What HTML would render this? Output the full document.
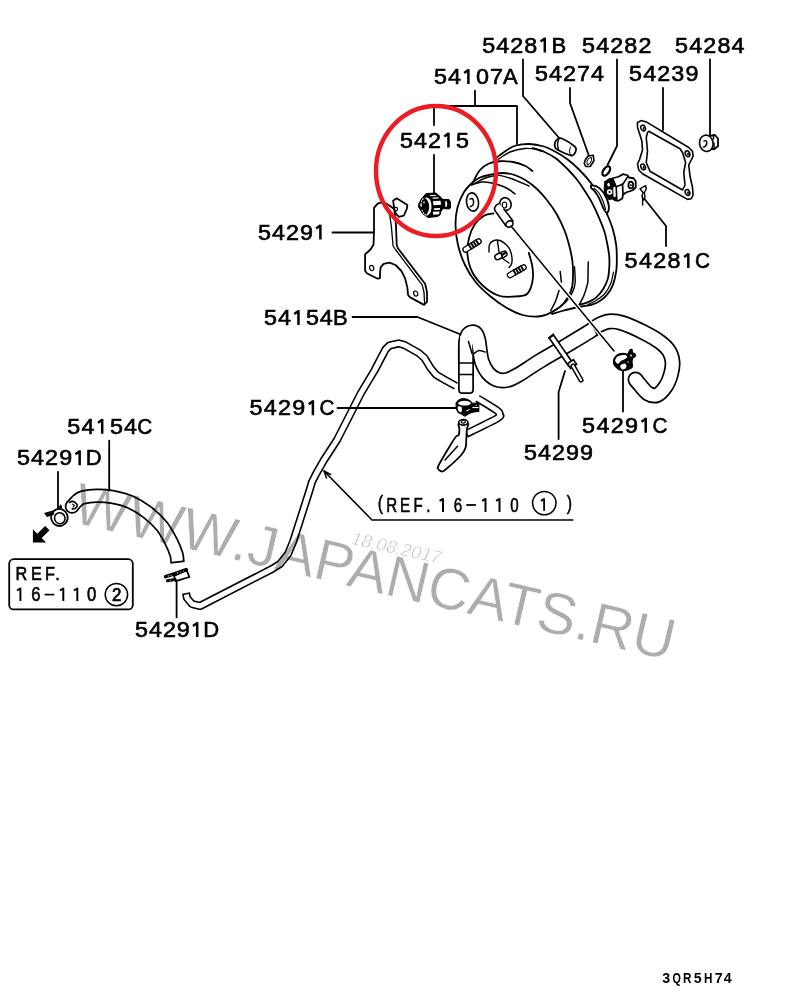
<!DOCTYPE html>
<html><head><meta charset="utf-8"><style>html,body{margin:0;padding:0;background:#fff;overflow:hidden}svg{display:block}text{font-family:"Liberation Sans",sans-serif}</style></head>
<body>
<svg width="800" height="1008" viewBox="0 0 800 1008">
<rect width="800" height="1008" fill="#fff"/>
<path d="M475,90.75 L475,106" fill="none" stroke="#000" stroke-width="1.8" stroke-linejoin="round" stroke-linecap="round" />
<path d="M434,125 L434,106 L517,106 L517,144" fill="none" stroke="#000" stroke-width="1.8" stroke-linejoin="round" stroke-linecap="round" />
<path d="M434,155 L434,192.5" fill="none" stroke="#000" stroke-width="1.8" stroke-linejoin="round" stroke-linecap="round" />
<path d="M523,59.5 L523,96 L560,139" fill="none" stroke="#000" stroke-width="1.8" stroke-linejoin="round" stroke-linecap="round" />
<path d="M570,88 L570,103 L589,156" fill="none" stroke="#000" stroke-width="1.8" stroke-linejoin="round" stroke-linecap="round" />
<path d="M617,59.5 L617,146 L607.5,165" fill="none" stroke="#000" stroke-width="1.8" stroke-linejoin="round" stroke-linecap="round" />
<path d="M710,59.5 L710,135" fill="none" stroke="#000" stroke-width="1.8" stroke-linejoin="round" stroke-linecap="round" />
<path d="M663,88 L663,130" fill="none" stroke="#000" stroke-width="1.8" stroke-linejoin="round" stroke-linecap="round" />
<path d="M666,246 L666,226 L645,199.5" fill="none" stroke="#000" stroke-width="1.8" stroke-linejoin="round" stroke-linecap="round" />
<path d="M332.5,232.5 L373,232.5" fill="none" stroke="#000" stroke-width="1.8" stroke-linejoin="round" stroke-linecap="round" />
<path d="M352.5,317 L417.5,317 L462,335" fill="none" stroke="#000" stroke-width="1.8" stroke-linejoin="round" stroke-linecap="round" />
<path d="M497.5,157 C499.08,155.83 503.92,151.92 507,150 C510.08,148.08 512.25,146.5 516,145.5 C519.75,144.5 525,143.88 529.5,144 C534,144.12 538.75,145 543,146.25 C547.25,147.5 551,149.38 555,151.5 C559,153.62 563,156 567,159 C571,162 575,165.5 579,169.5 C583,173.5 587.5,178.42 591,183 C594.5,187.58 597.38,191.98 600,197 C602.62,202.02 604.6,207.83 606.7,213.1 C608.8,218.37 611.02,223.25 612.6,228.6 C614.18,233.95 615.5,240.05 616.2,245.2 C616.9,250.35 616.8,255.13 616.8,259.5 C616.8,263.87 616.9,267.03 616.2,271.4 C615.5,275.77 614.18,281.73 612.6,285.7 C611.02,289.67 608.88,292.62 606.7,295.2 C604.52,297.78 602.08,299.6 599.5,301.2 C596.92,302.8 594.17,303.92 591.2,304.8 C588.23,305.68 584.9,305.88 581.7,306.5 C578.5,307.12 575.28,307.75 572,308.5 C568.72,309.25 565.33,310.08 562,311 C558.67,311.92 553.67,313.5 552,314" fill="none" stroke="#000" stroke-width="1.8" stroke-linejoin="round" stroke-linecap="round" />
<path d="M498,159.5 C500,158.25 505.5,153.83 510,152 C514.5,150.17 520.5,148.92 525,148.5 C529.5,148.08 534.33,149 537,149.5 C539.67,150 540.33,151.17 541,151.5" fill="none" stroke="#000" stroke-width="1.4" stroke-linejoin="round" stroke-linecap="round" />
<path d="M532.5,148 C534.5,148.67 540.58,150.25 544.5,152 C548.42,153.75 552.1,155.58 556,158.5 C559.9,161.42 564.58,166.2 567.9,169.5 C571.22,172.8 573.25,174.98 575.9,178.3 C578.55,181.62 581.17,185.43 583.8,189.4 C586.43,193.37 589.32,197.73 591.7,202.1 C594.08,206.47 595.98,210.72 598.1,215.6 C600.22,220.48 602.83,226.5 604.4,231.4 C605.97,236.3 606.7,240.9 607.5,245 C608.3,249.1 608.9,252.38 609.2,256 C609.5,259.62 609.52,262.93 609.3,266.7 C609.08,270.47 608.93,274.83 607.9,278.6 C606.87,282.37 605.08,286.13 603.1,289.3 C601.12,292.47 598.58,295.42 596,297.6 C593.42,299.78 590.6,301.17 587.6,302.4 C584.6,303.63 579.6,304.57 578,305" fill="none" stroke="#000" stroke-width="1.8" stroke-linejoin="round" stroke-linecap="round" />
<path d="M613.5,272 C613,274 612,280.33 610.5,284 C609,287.67 606.92,291.25 604.5,294 C602.08,296.75 598.75,298.75 596,300.5 C593.25,302.25 589.33,303.83 588,304.5" fill="none" stroke="#000" stroke-width="1.2" stroke-linejoin="round" stroke-linecap="round" />
<path d="M588.2,262.5 C588.17,264.75 588.1,272.53 588,276 C587.9,279.47 588.27,280.1 587.6,283.3 C586.93,286.5 585.38,291.62 584,295.2 C582.62,298.78 580.08,303.2 579.3,304.8" fill="none" stroke="#000" stroke-width="1.5" stroke-linejoin="round" stroke-linecap="round" />
<path d="M472.5,183 C473.75,180.83 477.25,173.25 480,170 C482.75,166.75 485.75,164.96 489,163.5 C492.25,162.04 495.5,161.5 499.5,161.25 C503.5,161 508.75,161.25 513,162 C517.25,162.75 521.75,164.25 525,165.75 C528.25,167.25 531.25,170.12 532.5,171" fill="none" stroke="#000" stroke-width="1.8" stroke-linejoin="round" stroke-linecap="round" />
<path d="M471.5,185 C473.25,184.5 478.58,182.33 482,182 C485.42,181.67 488.67,182.33 492,183 C495.33,183.67 499.17,184.92 502,186 C504.83,187.08 506.83,188.17 509,189.5 C511.17,190.83 514,193.25 515,194" fill="none" stroke="#000" stroke-width="1.5" stroke-linejoin="round" stroke-linecap="round" />
<path d="M489,175 C492.75,174.25 498.25,173 502.5,173 C506.75,173 510.58,173.75 514.5,175 C518.42,176.25 522.25,178.17 526,180.5 C529.75,182.83 533.52,185.75 537,189 C540.48,192.25 543.63,195.83 546.9,200 C550.17,204.17 553.63,208.83 556.6,214 C559.57,219.17 562.53,225.5 564.7,231 C566.87,236.5 568.3,241.83 569.6,247 C570.9,252.17 571.93,257.17 572.5,262 C573.07,266.83 573.07,271.83 573,276 C572.93,280.17 572.83,283.67 572.1,287 C571.37,290.33 569.98,293.33 568.6,296 C567.22,298.67 565.78,300.78 563.8,303 C561.82,305.22 559.48,307.42 556.7,309.3 C553.92,311.18 550.22,313.1 547.1,314.3 C543.98,315.5 542.1,316.38 538,316.5 C533.9,316.62 527.83,316.5 522.5,315 C517.17,313.5 511.42,310.67 506,307.5 C500.58,304.33 495,300.17 490,296 C485,291.83 480.17,287.67 476,282.5 C471.83,277.33 468,271.25 465,265 C462,258.75 459.58,251.67 458,245 C456.42,238.33 455.58,231.25 455.5,225 C455.42,218.75 456.12,212.92 457.5,207.5 C458.88,202.08 461.25,196.67 463.75,192.5 C466.25,188.33 469.79,185 472.5,182.5 C475.21,180 477.25,178.75 480,177.5 C482.75,176.25 485.25,175.75 489,175Z" fill="none" stroke="#000" stroke-width="1.8" stroke-linejoin="round" stroke-linecap="round" />
<path d="M474,184 C475.67,183.08 480.67,179.87 484,178.5 C487.33,177.13 491.17,176.28 494,175.8 C496.83,175.32 498.17,175.15 501,175.6 C503.83,176.05 506.33,176.77 511,178.5 C515.67,180.23 526,184.75 529,186" fill="none" stroke="#000" stroke-width="1.4" stroke-linejoin="round" stroke-linecap="round" />
<path d="M574.5,266.7 C574.6,269.47 575.5,278.93 575.1,283.3 C574.7,287.67 573.38,290.12 572.1,292.9 C570.82,295.68 569.18,297.82 567.4,300 C565.62,302.18 563.98,304.02 561.4,306 C558.82,307.98 553.48,310.92 551.9,311.9" fill="none" stroke="#000" stroke-width="1.4" stroke-linejoin="round" stroke-linecap="round" />
<path d="M560.2,271.4 L561.4,282.1" fill="none" stroke="#000" stroke-width="1.5" stroke-linejoin="round" stroke-linecap="round" />
<path d="M559,290.5 C558.42,292.28 556.88,297.83 555.5,301.2 C554.12,304.57 551.5,309.12 550.7,310.7" fill="none" stroke="#000" stroke-width="1.5" stroke-linejoin="round" stroke-linecap="round" />
<path d="M588.5,262 L588.5,262" fill="none" stroke="#000" stroke-width="1.5" stroke-linejoin="round" stroke-linecap="round" />
<path d="M493.5,213.5 C492,213.83 487.58,213.75 484.5,215.5 C481.42,217.25 477.58,220.25 475,224 C472.42,227.75 470.25,232.83 469,238 C467.75,243.17 466.92,249.25 467.5,255 C468.08,260.75 469.58,267.08 472.5,272.5 C475.42,277.92 480.42,283.58 485,287.5 C489.58,291.42 495,294.5 500,296 C505,297.5 510.72,296.68 515,296.5 C519.28,296.32 523.1,296.25 525.7,294.9 C528.3,293.55 529.38,291.38 530.6,288.4 C531.82,285.42 532.73,280.8 533,277 C533.27,273.2 532.9,269.63 532.2,265.6 C531.5,261.57 529.37,254.93 528.8,252.8" fill="none" stroke="#000" stroke-width="1.8" stroke-linejoin="round" stroke-linecap="round" />
<path d="M374,207.9 L377.6,203.7 L381.2,202.5 L386,203.5 L390,206 L394.3,209 L396,225.7 L396.7,244.8 L397.9,248.3 L425.2,284 L427,292.4 L427,301.9 L424,304.9 L409.8,297.1 L408,294.8 L407.4,287.6 L405,278.1 L401.4,271 L395.5,265 L389.5,262.6 L383.6,263.8 L380.6,267.4 L380,273.3 L380,278.1 L377.6,278.7 L366.9,273.3 L365.1,271 L365.1,254.3 L370.5,249.5 L373.5,244.8 L374,231.7Z" fill="#fff" stroke="#000" stroke-width="1.8" stroke-linejoin="round"/>
<path d="M389.5,214 L391.3,225.7 L393.1,246 L395.5,249.5 L422.3,285.2 L424,292.4 L424.6,303.5" fill="none" stroke="#000" stroke-width="1.3" stroke-linejoin="round" stroke-linecap="round" />
<ellipse cx="371.7" cy="268" rx="2" ry="2.6" transform="rotate(-20 371.7 268)" fill="none" stroke="#000" stroke-width="1.2"/>
<ellipse cx="415.7" cy="293.6" rx="2" ry="2.6" transform="rotate(-20 415.7 293.6)" fill="none" stroke="#000" stroke-width="1.2"/>
<path d="M393.1,200.7 L396.7,198.3 L407.4,204.9 L406.8,209 L403.8,215.6 L399,216.8 L396,213.8 L394.3,209Z" fill="#fff" stroke="#000" stroke-width="1.8" stroke-linejoin="round"/>
<circle cx="395.8" cy="209.2" r="1.8" fill="none" stroke="#000" stroke-width="1.2"/>
<path d="M418.5,204.5 L421,199.5 L426,193.5 L436,193 L441,197.5 L443,199.5 L449,199.5 L450.5,202 L450.5,208 L449,209 L443,208.5 L441,211.5 L440,215 L437.5,216.5 L428,217.5 L422.5,213.5 L420,209 L418.5,207Z" fill="#000" stroke="#000" stroke-width="1" stroke-linejoin="round"/>
<path d="M424.5,198 C427,196.5 429.5,198 430.8,201.5 C431.8,205 431.7,209.5 430.5,212.5 C429.3,214.8 427.5,215.5 426,215.2 C428.2,213 429.3,209.5 429.2,206 C429,202 427.2,199 424.5,198 Z" fill="#fff"/>
<path d="M433,201 L440.5,200.8 L441,204.8 L433.5,205.2 Z" fill="#fff"/>
<path d="M434,208.2 L440,208 L440,209.8 L434,210 Z" fill="#fff"/>
<path d="M432.8,211.8 L439.6,211.4 L439,214.3 L433.2,214.8 Z" fill="#fff"/>
<path d="M432.5,197.6 L438.5,197.3 L438.6,198.5 L432.6,198.7 Z" fill="#fff"/>
<path d="M430.2,195.1 L435.8,194.9 L435.8,195.9 L430.2,196.1 Z" fill="#fff"/>
<path d="M445.2,201.3 L446.8,201.2 L447.2,204 L446.8,206.8 L445.3,206.9 Z" fill="#fff"/>
<path d="M423.4,201.5 L424.6,201.2 L424.6,203.4 L423.4,203.6 Z" fill="#fff"/>
<rect x="420.5" y="204.2" width="1.3" height="2.4" fill="#fff"/>
<path d="M423.5,198.5 C421.5,200 420.8,203 421,206" fill="none" stroke="#fff" stroke-width="1.1" stroke-dasharray="1.6 0.9"/>
<path d="M422,210 C423,213 425,215 427.5,215.8" fill="none" stroke="#fff" stroke-width="1.1" stroke-dasharray="1.6 0.9"/>
<ellipse cx="472.5" cy="202" rx="6" ry="9.2" transform="rotate(-8 472.5 202)" fill="none" stroke="#000" stroke-width="1.6"/>
<path d="M470,199 C470.33,198.92 471.42,198.17 472,198.5 C472.58,198.83 473.33,199.92 473.5,201 C473.67,202.08 473.5,204.08 473,205 C472.5,205.92 470.92,206.25 470.5,206.5" fill="none" stroke="#000" stroke-width="1.5" stroke-linejoin="round" stroke-linecap="round" />
<line x1="465.5" y1="249.5" x2="478.5" y2="241.5" stroke="#000" stroke-width="6.5" stroke-linecap="round"/>
<line x1="465.5" y1="249.5" x2="478.5" y2="241.5" stroke="#fff" stroke-width="3.9" stroke-linecap="round"/>
<line x1="471.75" y1="249.47" x2="468.35" y2="243.93" stroke="#000" stroke-width="1.9"/>
<line x1="474.17" y1="247.98" x2="470.76" y2="242.45" stroke="#000" stroke-width="1.9"/>
<line x1="476.58" y1="246.5" x2="473.18" y2="240.96" stroke="#000" stroke-width="1.9"/>
<line x1="479" y1="245.01" x2="475.59" y2="239.47" stroke="#000" stroke-width="1.9"/>
<line x1="510" y1="275" x2="523.5" y2="267.5" stroke="#000" stroke-width="6.5" stroke-linecap="round"/>
<line x1="510" y1="275" x2="523.5" y2="267.5" stroke="#fff" stroke-width="3.9" stroke-linecap="round"/>
<line x1="516.3" y1="275.22" x2="513.15" y2="269.53" stroke="#000" stroke-width="1.9"/>
<line x1="518.81" y1="273.82" x2="515.65" y2="268.14" stroke="#000" stroke-width="1.9"/>
<line x1="521.32" y1="272.43" x2="518.16" y2="266.75" stroke="#000" stroke-width="1.9"/>
<line x1="523.82" y1="271.04" x2="520.67" y2="265.36" stroke="#000" stroke-width="1.9"/>
<ellipse cx="505.5" cy="204" rx="5.5" ry="6.5" transform="rotate(-20 505.5 204)" fill="#fff" stroke="#000" stroke-width="1.6"/>
<ellipse cx="504.5" cy="205" rx="2.2" ry="3" fill="none" stroke="#000" stroke-width="1.2"/>
<path d="M499,203.5 C495,205 493,209 496,212 L506,226 L513,221 L503.5,208.5" fill="#fff" stroke="#000" stroke-width="1.6" stroke-linejoin="round"/>
<ellipse cx="509.5" cy="224" rx="3.6" ry="3" transform="rotate(-35 509.5 224)" fill="#fff" stroke="#000" stroke-width="1.5"/>
<path d="M489,252 C489.08,250.75 488.67,246.42 489.5,244.5 C490.33,242.58 492.25,241.17 494,240.5 C495.75,239.83 498,239.83 500,240.5 C502,241.17 504.33,242.92 506,244.5 C507.67,246.08 509,247.75 510,250 C511,252.25 511.75,255.67 512,258 C512.25,260.33 512,262.42 511.5,264 C511,265.58 509.42,266.92 509,267.5" fill="none" stroke="#000" stroke-width="1.4" stroke-linejoin="round" stroke-linecap="round" />
<path d="M497.5,241 L499,252 L502,258 L509,263" fill="none" stroke="#000" stroke-width="1.4" stroke-linejoin="round" stroke-linecap="round" />
<path d="M500,253 C500.83,252.67 503.83,250.67 505,251 C506.17,251.33 507.33,253.83 507,255 C506.67,256.17 503.67,257.5 503,258" fill="none" stroke="#000" stroke-width="1.5" stroke-linejoin="round" stroke-linecap="round" />
<ellipse cx="498.5" cy="256.5" rx="3.8" ry="2.8" transform="rotate(-25 498.5 256.5)" fill="#fff" stroke="#000" stroke-width="1.5"/>
<path d="M502,255 L505,253" fill="none" stroke="#000" stroke-width="2.2" stroke-linejoin="round" stroke-linecap="round" />
<path d="M591,185.5 C597,184.5 603,190 606.5,198 C609,204 609.8,210 607.3,212.8 C604.8,213 603.2,208.5 601.6,204 C599,197 595.5,191 591,187.8 Z" fill="#fff" stroke="#000" stroke-width="1.9" stroke-linejoin="round"/>
<path d="M594,188.3 C594.83,189.08 597.5,190.88 599,193 C600.5,195.12 601.9,198.25 603,201 C604.1,203.75 605.17,208.08 605.6,209.5" fill="none" stroke="#000" stroke-width="1.2" stroke-linejoin="round" stroke-linecap="round" />
<path d="M603.5,193.5 L606.5,191.5 L609,196.5 L606.5,199.5 Z" fill="#000"/>
<path d="M605,182 L609.5,179 L618.5,176.75 L623,174.1 L627.5,175.25 L629,177.5 L633.5,178.25 L635.75,181.25 L635.75,187.25 L632.75,190.25 L626,192.5 L623,194.75 L622.25,198.5 L618.5,200.75 L614.75,200 L612.5,198.5 L609.5,199.25 L606.5,197.75 L605,194 L604.6,188.75Z" fill="#fff" stroke="#000" stroke-width="1.8" stroke-linejoin="round"/>
<path d="M605,182 L609.5,179 L613.5,178.2 L617,186.5 L617.6,199.5 L614.75,200 L612.5,198.5 L609.5,199.25 L606.5,197.75 L605,194 L604.6,188.75 Z" fill="#000"/>
<ellipse cx="630.8" cy="185" rx="2.4" ry="3.4" fill="#fff" stroke="#000" stroke-width="1.8"/>
<circle cx="630.9" cy="185.3" r="1" fill="#000"/>
<circle cx="609.6" cy="192" r="2.8" fill="#fff"/>
<circle cx="609.6" cy="192" r="1.1" fill="#000"/>
<path d="M607,184 L609,182.6 L610.2,185.5 L608,186.8 Z" fill="#fff"/>
<path d="M613.2,187.5 L615.4,186.6 L615.8,196.5 L613.6,197.2 Z" fill="#fff"/>
<path d="M622.5,184 L623,194" fill="none" stroke="#000" stroke-width="1.7" stroke-linejoin="round" stroke-linecap="round" />
<path d="M617,186.5 L623,184 L627.5,177" fill="none" stroke="#000" stroke-width="1.5" stroke-linejoin="round" stroke-linecap="round" />
<path d="M555,142.5 C555.5,141.12 556.75,139.38 558,138.75 C559.25,138.12 559.75,137.5 562.5,138.75 C565.25,140 572.25,144.38 574.5,146.25 C576.75,148.12 576.12,148.62 576,150 C575.88,151.38 574.75,153.62 573.75,154.5 C572.75,155.38 572.62,156 570,155.25 C567.38,154.5 560.5,151.38 558,150 C555.5,148.62 555.5,148.25 555,147 C554.5,145.75 554.5,143.88 555,142.5Z" fill="#fff" stroke="#000" stroke-width="1.8" stroke-linejoin="round"/>
<path d="M558.7,139.3 C558.5,140.08 557.53,142.3 557.5,144 C557.47,145.7 558.33,148.58 558.5,149.5" fill="none" stroke="#000" stroke-width="1.4" stroke-linejoin="round" stroke-linecap="round" />
<path d="M570.5,147 C570.33,147.67 569.5,149.67 569.5,151 C569.5,152.33 570.33,154.33 570.5,155" fill="none" stroke="#000" stroke-width="1" stroke-linejoin="round" stroke-linecap="round" />
<path d="M585,160.5 L588,156 L593.25,155.25 L594,160.5 L590.25,166.5 L585.75,166.5 L584.25,163.5 Z" fill="#fff" stroke="#000" stroke-width="1.6" stroke-linejoin="round"/>
<path d="M587,161 L589,158 L591.6,157.6 L591.5,160.8 L589.3,164.3 L587,164.4 Z" fill="none" stroke="#000" stroke-width="1.0"/>
<ellipse cx="606.3" cy="171" rx="2.9" ry="5.3" transform="rotate(35 606.3 171)" fill="#fff" stroke="#000" stroke-width="2.3"/>
<path d="M637.5,122.5 L641.25,120.6 L646.25,121.9 L688.75,147.5 L692.5,151.25 L693.1,156.25 L688.75,165 L690,176.25 L692.5,187.5 L693.1,195 L691.25,198.75 L687.5,199.4 L642.5,173.75 L638.75,170 L637.5,163.75 L639.4,160 L642.5,150 L641.9,141.25 L640,135 L637.5,127.5Z M648.75,131.25 L680,148.75 L682.5,152.5 L685.6,162.5 L683.75,172.5 L685,185 L682.5,190 L650,171.25 L646.25,162.5 L647.5,151.25 L646.25,137.5 L647.5,132.5Z" fill="#fff" fill-rule="evenodd" stroke="#000" stroke-width="1.6" stroke-linejoin="round"/>
<ellipse cx="643.1" cy="128.1" rx="2.2" ry="3" transform="rotate(-25 643.1 128.1)" fill="#fff" stroke="#000" stroke-width="1.5"/>
<ellipse cx="643.6" cy="128.4" rx="0.9" ry="1.5" fill="#000"/>
<ellipse cx="687.5" cy="153.75" rx="2.2" ry="3" transform="rotate(-25 687.5 153.75)" fill="#fff" stroke="#000" stroke-width="1.5"/>
<ellipse cx="688.0" cy="154.05" rx="0.9" ry="1.5" fill="#000"/>
<ellipse cx="643.1" cy="166.9" rx="2.2" ry="3" transform="rotate(-25 643.1 166.9)" fill="#fff" stroke="#000" stroke-width="1.5"/>
<ellipse cx="643.6" cy="167.20000000000002" rx="0.9" ry="1.5" fill="#000"/>
<ellipse cx="687.5" cy="192.5" rx="2.2" ry="3" transform="rotate(-25 687.5 192.5)" fill="#fff" stroke="#000" stroke-width="1.5"/>
<ellipse cx="688.0" cy="192.8" rx="0.9" ry="1.5" fill="#000"/>
<path d="M709,136 L715,135 L718,138.5 L718,146 L714.5,149 L709,149 Z" fill="#fff" stroke="#000" stroke-width="1.8" stroke-linejoin="round"/>
<path d="M713.5,135.5 L713.5,139" fill="none" stroke="#000" stroke-width="1.4" stroke-linejoin="round" stroke-linecap="round" />
<path d="M714,143 L714.2,148.5" fill="none" stroke="#000" stroke-width="1.4" stroke-linejoin="round" stroke-linecap="round" />
<ellipse cx="706.3" cy="143.3" rx="6.8" ry="8.2" transform="rotate(-10 706.3 143.3)" fill="#fff" stroke="#000" stroke-width="1.6"/>
<path d="M704,141 C704.33,140.97 705.53,140.38 706,140.8 C706.47,141.22 706.97,142.55 706.8,143.5 C706.63,144.45 705.55,145.92 705,146.5 C704.45,147.08 703.75,146.92 703.5,147" fill="none" stroke="#000" stroke-width="1.5" stroke-linejoin="round" stroke-linecap="round" />
<path d="M640,188.75 L645.6,185.6 L646.25,188.75 L644.4,192.5 L645,197.5 L643.75,200 L641.9,196.25 L643,192.5 L640,188.75" fill="none" stroke="#000" stroke-width="1.4" stroke-linejoin="round" stroke-linecap="round" />
<path d="M642.6,197 L642.6,205" fill="none" stroke="#000" stroke-width="1.4" stroke-linejoin="round" stroke-linecap="round" />
<path d="M186,593 L187,598 L192,604 L200,606 L272,569 L280,564 L288,554 L293,542 L309,492 L312,482 L316,474 L324,460 L337,440 L361,393 L374.5,370.5 L385.5,349.5 L389.5,345.5 L398.7,343.4 L404.5,345 L418.7,353 L424.5,358 L430.5,368 L436,374.7 L445,380 L456,386" fill="none" stroke="#000" stroke-width="8.2" stroke-linejoin="round" stroke-linecap="butt"/>
<path d="M186.31,594.57 L187,598 L192,604 L200,606 L272,569 L280,564 L288,554 L293,542 L309,492 L312,482 L316,474 L324,460 L337,440 L361,393 L374.5,370.5 L385.5,349.5 L389.5,345.5 L398.7,343.4 L404.5,345 L418.7,353 L424.5,358 L430.5,368 L436,374.7 L445,380 L456.7,386.38" fill="none" stroke="#fff" stroke-width="5" stroke-linejoin="round" stroke-linecap="butt"/>
<path d="M477.5,398.4 C480.75,400.42 493.33,407.82 497,410.5 C500.67,413.18 499.5,413.17 499.5,414.5 C499.5,415.83 502.58,415.25 497,418.5 C491.42,421.75 471.17,431.42 466,434" fill="none" stroke="#000" stroke-width="8.2" stroke-linejoin="round" stroke-linecap="butt"/>
<path d="M476.82,397.98 C480.18,400.07 493.22,407.75 497,410.5 C500.78,413.25 499.5,413.17 499.5,414.5 C499.5,415.83 502.34,415.37 497,418.5 C491.66,421.63 472.36,430.82 467.43,433.28" fill="none" stroke="#fff" stroke-width="5" stroke-linejoin="round" stroke-linecap="butt"/>
<path d="M458.75,423.75 C457.3,424.58 459.4,426.88 459.4,428.75 C459.4,430.62 459.27,433.75 458.75,435 C458.23,436.25 457.5,434.79 456.25,436.25 C455,437.71 454.17,438.96 451.25,443.75 C448.33,448.54 440.94,460.83 438.75,465 C436.56,469.17 437.68,467.71 438.1,468.75 C438.52,469.79 440.1,471.04 441.25,471.25 C442.4,471.46 441.67,472.71 445,470 C448.33,467.29 457.82,458.75 461.25,455 C464.68,451.25 464.77,450 465.6,447.5 C466.43,445 466.03,443.12 466.25,440 C466.47,436.88 466.59,431.46 466.9,428.75 C467.21,426.04 469.46,424.58 468.1,423.75 C466.74,422.92 460.2,422.92 458.75,423.75Z" fill="#fff" stroke="#000" stroke-width="1.8" stroke-linejoin="round"/>
<ellipse cx="463.3" cy="422.3" rx="4.6" ry="2.8" fill="#fff" stroke="#000" stroke-width="1.6"/>
<ellipse cx="463.3" cy="421.8" rx="2.2" ry="1.3" fill="none" stroke="#000" stroke-width="1.1"/>
<path d="M457.5,446.25 L445,460" fill="none" stroke="#000" stroke-width="1.5" stroke-linejoin="round" stroke-linecap="round" />
<path d="M466,372 C466,367.5 465.75,351 466,345 C466.25,339 466.58,338.08 467.5,336 C468.42,333.92 470.08,332.83 471.5,332.5 C472.92,332.17 474.83,332.58 476,334 C477.17,335.42 477.83,338 478.5,341 C479.17,344 479.42,348.5 480,352 C480.58,355.5 480.67,358.5 482,362 C483.33,365.5 485.5,370.08 488,373 C490.5,375.92 493.83,378.33 497,379.5 C500.17,380.67 503.5,380.75 507,380 C510.5,379.25 512.5,378.17 518,375 C523.5,371.83 532.17,365.78 540,361 C547.83,356.22 556.67,351.25 565,346.3 C573.33,341.35 584.5,334.77 590,331.3 C595.5,327.83 594.83,327.13 598,325.5 C601.17,323.87 605,321.92 609,321.5 C613,321.08 616.33,321.25 622,323 C627.67,324.75 636.67,328.83 643,332 C649.33,335.17 655.67,338.83 660,342 C664.33,345.17 666.92,347.67 669,351 C671.08,354.33 672.17,358.17 672.5,362 C672.83,365.83 672.08,370 671,374 C669.92,378 668.33,382.5 666,386 C663.67,389.5 660,393.75 657,395 C654,396.25 650.83,395.17 648,393.5 C645.17,391.83 642.08,387.33 640,385 C637.92,382.67 636.25,380.42 635.5,379.5" fill="none" stroke="#000" stroke-width="16" stroke-linejoin="round" stroke-linecap="butt"/>
<circle cx="635.5" cy="379.5" r="8" fill="#000"/>
<path d="M466,372.8 C466,368.17 465.75,351.13 466,345 C466.25,338.87 466.58,338.08 467.5,336 C468.42,333.92 470.08,332.83 471.5,332.5 C472.92,332.17 474.83,332.58 476,334 C477.17,335.42 477.83,338 478.5,341 C479.17,344 479.42,348.5 480,352 C480.58,355.5 480.67,358.5 482,362 C483.33,365.5 485.5,370.08 488,373 C490.5,375.92 493.83,378.33 497,379.5 C500.17,380.67 503.5,380.75 507,380 C510.5,379.25 512.5,378.17 518,375 C523.5,371.83 532.17,365.78 540,361 C547.83,356.22 556.67,351.25 565,346.3 C573.33,341.35 584.5,334.77 590,331.3 C595.5,327.83 594.83,327.13 598,325.5 C601.17,323.87 605,321.92 609,321.5 C613,321.08 616.33,321.25 622,323 C627.67,324.75 636.67,328.83 643,332 C649.33,335.17 655.67,338.83 660,342 C664.33,345.17 666.92,347.67 669,351 C671.08,354.33 672.17,358.17 672.5,362 C672.83,365.83 672.08,370 671,374 C669.92,378 668.33,382.5 666,386 C663.67,389.5 660,393.75 657,395 C654,396.25 650.83,395.17 648,393.5 C645.17,391.83 642.08,387.33 640,385 C637.92,382.67 636.25,380.42 635.5,379.5" fill="none" stroke="#fff" stroke-width="12.6" stroke-linejoin="round" stroke-linecap="butt"/>
<circle cx="635.5" cy="379.5" r="6.3" fill="#fff"/>
<path d="M458.9,341 L458.9,389.5 Q458.9,393.2 462.6,393.2 L469.4,393.2 Q473.1,393.2 473.1,389.5 L473.1,354" fill="#fff" stroke="#000" stroke-width="1.7" stroke-linejoin="round"/>
<rect x="460.2" y="336" width="11.6" height="8" fill="#fff"/>
<path d="M468.5,341.5 L472,353.5" fill="none" stroke="#000" stroke-width="1.5" stroke-linejoin="round" stroke-linecap="round" />
<path d="M591.5,323.5 L597.5,335.5" fill="none" stroke="#000" stroke-width="1.6" stroke-linejoin="round" stroke-linecap="round" />
<path d="M459,363 L473,363" fill="none" stroke="#000" stroke-width="1.6" stroke-linejoin="round" stroke-linecap="round" />
<path d="M459,374.5 L473,374.5" fill="none" stroke="#000" stroke-width="1.6" stroke-linejoin="round" stroke-linecap="round" />
<path d="M474,353.5 C474.83,353 477.17,350.75 479,350.5 C480.83,350.25 484,351.75 485,352" fill="none" stroke="#000" stroke-width="1.5" stroke-linejoin="round" stroke-linecap="round" />
<path d="M72,506.5 C72.92,505.5 75.67,502.02 77.5,500.5 C79.33,498.98 79.83,498.19 83,497.4 C86.17,496.61 91.67,495.83 96.5,495.75 C101.33,495.67 106.42,495.88 112,496.9 C117.58,497.92 124.17,499.38 130,501.9 C135.83,504.42 141.71,507.98 147,512 C152.29,516.02 157.7,521.02 161.75,526 C165.8,530.98 168.84,537.13 171.3,541.9 C173.76,546.67 175.47,551.12 176.5,554.6 C177.53,558.08 177.33,561.43 177.5,562.8" fill="none" stroke="#000" stroke-width="14.5" stroke-linejoin="round" stroke-linecap="butt"/>
<circle cx="72" cy="506.5" r="7.25" fill="#000"/>
<path d="M72,506.5 C72.92,505.5 75.67,502.02 77.5,500.5 C79.33,498.98 79.83,498.19 83,497.4 C86.17,496.61 91.67,495.83 96.5,495.75 C101.33,495.67 106.42,495.88 112,496.9 C117.58,497.92 124.17,499.38 130,501.9 C135.83,504.42 141.71,507.98 147,512 C152.29,516.02 157.7,521.02 161.75,526 C165.8,530.98 168.84,537.13 171.3,541.9 C173.76,546.67 175.5,551.4 176.5,554.6 C177.5,557.8 177.16,560.03 177.29,561.11" fill="none" stroke="#fff" stroke-width="11.1" stroke-linejoin="round" stroke-linecap="butt"/>
<circle cx="72" cy="506.5" r="5.55" fill="#fff"/>
<path d="M69.5,502.5 C69.92,502.32 71.08,501.43 72,501.4 C72.92,501.37 74.12,501.6 75,502.3 C75.88,503 77.3,504.55 77.3,505.6 C77.3,506.65 75.83,508.05 75,508.6 C74.17,509.15 72.75,508.85 72.3,508.9" fill="none" stroke="#000" stroke-width="1.6" stroke-linejoin="round" stroke-linecap="round" />
<path d="M72.8,504.2 C73.05,504.4 74.23,504.93 74.3,505.4 C74.37,505.87 73.38,506.73 73.2,507" fill="none" stroke="#000" stroke-width="1.2" stroke-linejoin="round" stroke-linecap="round" />
<path d="M337.5,408 L457,408" fill="none" stroke="#000" stroke-width="1.8" stroke-linejoin="round" stroke-linecap="round" />
<path d="M623,370 L623,411.6" fill="none" stroke="#000" stroke-width="1.8" stroke-linejoin="round" stroke-linecap="round" />
<path d="M565,371 L558.6,392 L558.6,439" fill="none" stroke="#000" stroke-width="1.8" stroke-linejoin="round" stroke-linecap="round" />
<path d="M109.2,440.7 L109.2,490.5" fill="none" stroke="#000" stroke-width="1.8" stroke-linejoin="round" stroke-linecap="round" />
<path d="M58,472 L58,508.6" fill="none" stroke="#000" stroke-width="1.8" stroke-linejoin="round" stroke-linecap="round" />
<path d="M176.6,581.5 L176.6,617.3" fill="none" stroke="#000" stroke-width="1.8" stroke-linejoin="round" stroke-linecap="round" />
<path d="M514,229.5 L612,348.5" fill="none" stroke="#fff" stroke-width="4.2" stroke-linejoin="round" stroke-linecap="round" />
<path d="M511,226 L614,351" fill="none" stroke="#000" stroke-width="1.5" stroke-linejoin="round" stroke-linecap="round" />
<path d="M324,471 L372,520 L572.8,520" fill="none" stroke="#000" stroke-width="1.6" stroke-linejoin="round" stroke-linecap="round" />
<path d="M330.5,474.5 L324,471 L326.5,478" fill="none" stroke="#000" stroke-width="1.5" stroke-linejoin="round" stroke-linecap="round" />
<line x1="551" y1="336" x2="571" y2="365" stroke="#000" stroke-width="6.8" stroke-linecap="butt"/>
<line x1="551.91" y1="337.32" x2="570.09" y2="363.68" stroke="#fff" stroke-width="3.5999999999999996" stroke-linecap="butt"/>
<line x1="570" y1="361" x2="574" y2="367" stroke="#000" stroke-width="8.8" stroke-linecap="butt"/>
<line x1="570.89" y1="362.33" x2="573.11" y2="365.67" stroke="#fff" stroke-width="5.6000000000000005" stroke-linecap="butt"/>
<line x1="573" y1="366" x2="581" y2="380" stroke="#000" stroke-width="5.2" stroke-linecap="round"/>
<line x1="573" y1="366" x2="581" y2="380" stroke="#fff" stroke-width="2.2" stroke-linecap="round"/>
<path d="M548.5,338 L553.5,334" fill="none" stroke="#000" stroke-width="1.6" stroke-linejoin="round" stroke-linecap="round" />
<path d="M456.1,402.75 L458.75,399.7 L463.1,398.4 L467.5,399.25 L471,401.4 L471.9,403.2 L478.9,403.2 L478.9,411.5 L474.5,411.9 L471.9,412.4 L468.4,414.1 L464.9,416.3 L461.4,414.1 L457.9,412.4 L456.1,408.4Z" fill="#000" stroke="#000" stroke-width="1" stroke-linejoin="round"/>
<ellipse cx="464.5" cy="403.2" rx="6.2" ry="2.4" fill="#fff"/>
<path d="M457.9,406.7 C458.42,406.12 460.75,406.33 461.4,407.1 C462.05,407.87 462.03,410.45 461.8,411.3 C461.57,412.15 460.58,412.32 460,412.2 C459.42,412.08 458.65,411.52 458.3,410.6 C457.95,409.68 457.38,407.28 457.9,406.7Z" fill="#fff"/>
<rect x="472.3" y="407" width="6.3" height="1.1" fill="#fff"/>
<circle cx="476.3" cy="405.5" r="0.6" fill="#fff"/>
<path d="M466.3,410.6 L469.5,409 L469.9,409.8 L466.7,411.4 Z" fill="#fff"/>
<path d="M613.5,361 C613.67,359.75 614.08,358.17 615,357 C615.92,355.83 617.5,354.62 619,354 C620.5,353.38 622.58,353.25 624,353.25 C625.42,353.25 626.5,354.54 627.5,354 C628.5,353.46 629.25,350.75 630,350 C630.75,349.25 631.58,349.08 632,349.5 C632.42,349.92 632,351.75 632.5,352.5 C633,353.25 634.5,353.42 635,354 C635.5,354.58 635.83,355.33 635.5,356 C635.17,356.67 633.58,357.08 633,358 C632.42,358.92 632.12,360 632,361.5 C631.88,363 632.83,365.67 632.25,367 C631.67,368.33 629.88,368.92 628.5,369.5 C627.12,370.08 625.42,370.42 624,370.5 C622.58,370.58 621.17,370.42 620,370 C618.83,369.58 618,368.92 617,368 C616,367.08 614.58,365.67 614,364.5 C613.42,363.33 613.33,362.25 613.5,361Z" fill="#000" stroke="#000" stroke-width="1.2" stroke-linejoin="round"/>
<path d="M615.2,361 C614.97,359.97 615.8,358.5 616.6,357.6 C617.4,356.7 618.6,356.02 620,355.6 C621.4,355.18 623.83,354.95 625,355.1 C626.17,355.25 626.83,355.93 627,356.5 C627.17,357.07 627,357.75 626,358.5 C625,359.25 622.33,360.12 621,361 C619.67,361.88 618.97,363.8 618,363.8 C617.03,363.8 615.43,362.03 615.2,361Z" fill="#fff"/>
<path d="M620.2,366.2 C620.2,365.35 621.2,364.63 622,364.2 C622.8,363.77 624.27,363.3 625,363.6 C625.73,363.9 626.32,365.2 626.4,366 C626.48,366.8 626.23,367.85 625.5,368.4 C624.77,368.95 622.88,369.67 622,369.3 C621.12,368.93 620.2,367.05 620.2,366.2Z" fill="#fff"/>
<circle cx="631" cy="355.5" r="0.9" fill="#fff"/>
<circle cx="628" cy="362" r="0.7" fill="#fff"/>
<ellipse cx="59.4" cy="517.4" rx="8.2" ry="8.6" transform="rotate(-20 59.4 517.4)" fill="#fff" stroke="#000" stroke-width="1.8"/>
<ellipse cx="59.8" cy="518.2" rx="5.2" ry="5.6" transform="rotate(-20 59.8 518.2)" fill="none" stroke="#000" stroke-width="1.5"/>
<path d="M44,513 L53,510.5 L54.5,514.5 L47,517 Z" fill="#000"/>
<path d="M57.5,508.5 L61,504 L62.5,508.5 Z" fill="#000"/>
<path d="M174,576 L186.6,570.2 L189.4,577 L175.8,581.2 Z" fill="#fff" stroke="#000" stroke-width="1.8" stroke-linejoin="round"/>
<path d="M165.6,576.6 L175,573.6 L186.2,569.8" fill="none" stroke="#000" stroke-width="3.6" stroke-linejoin="round" stroke-linecap="round" />
<path d="M167.4,580.8 L175.2,579.4" fill="none" stroke="#000" stroke-width="3" stroke-linejoin="round" stroke-linecap="round" />
<circle cx="168.3" cy="575.9" r="0.55" fill="#fff"/>
<circle cx="171" cy="575.2" r="0.55" fill="#fff"/>
<circle cx="177.5" cy="572.9" r="0.55" fill="#fff"/>
<circle cx="180.3" cy="572" r="0.55" fill="#fff"/>
<circle cx="183.3" cy="571" r="0.55" fill="#fff"/>
<circle cx="170.2" cy="580.3" r="0.55" fill="#fff"/>
<path d="M32.9,542.5 L32.9,529.3 L37.3,533.7 L45.1,525.9 L49.5,530.3 L41.7,538.1 L46.1,542.5 Z" fill="#000"/>
<rect x="9.2" y="559.2" width="123.6" height="50.2" rx="4.5" fill="none" stroke="#000" stroke-width="1.8"/>
<text transform="translate(488.8,52.6) scale(1.08,1)" text-anchor="middle" font-family="Liberation Sans" font-size="21.6" stroke="#000" stroke-width="0.6">5</text>
<text transform="translate(502.8,52.6) scale(1.08,1)" text-anchor="middle" font-family="Liberation Sans" font-size="21.6" stroke="#000" stroke-width="0.6">4</text>
<text transform="translate(516.8,52.6) scale(1.08,1)" text-anchor="middle" font-family="Liberation Sans" font-size="21.6" stroke="#000" stroke-width="0.6">2</text>
<text transform="translate(530.8,52.6) scale(1.08,1)" text-anchor="middle" font-family="Liberation Sans" font-size="21.6" stroke="#000" stroke-width="0.6">8</text>
<path d="M544.8,52.6 L544.8,37.74 M545.1,38.34 L540.6,41.54" stroke="#000" stroke-width="2.48" stroke-linecap="butt" fill="none"/>
<text transform="translate(558.8,52.6) scale(1.02,1)" text-anchor="middle" font-family="Liberation Sans" font-size="21.6" stroke="#000" stroke-width="0.6">B</text>
<text transform="translate(588.6,52.5) scale(1.08,1)" text-anchor="middle" font-family="Liberation Sans" font-size="21.6" stroke="#000" stroke-width="0.6">5</text>
<text transform="translate(602.67,52.5) scale(1.08,1)" text-anchor="middle" font-family="Liberation Sans" font-size="21.6" stroke="#000" stroke-width="0.6">4</text>
<text transform="translate(616.74,52.5) scale(1.08,1)" text-anchor="middle" font-family="Liberation Sans" font-size="21.6" stroke="#000" stroke-width="0.6">2</text>
<text transform="translate(630.81,52.5) scale(1.08,1)" text-anchor="middle" font-family="Liberation Sans" font-size="21.6" stroke="#000" stroke-width="0.6">8</text>
<text transform="translate(644.88,52.5) scale(1.08,1)" text-anchor="middle" font-family="Liberation Sans" font-size="21.6" stroke="#000" stroke-width="0.6">2</text>
<text transform="translate(681.6,52.5) scale(1.08,1)" text-anchor="middle" font-family="Liberation Sans" font-size="21.6" stroke="#000" stroke-width="0.6">5</text>
<text transform="translate(695.7,52.5) scale(1.08,1)" text-anchor="middle" font-family="Liberation Sans" font-size="21.6" stroke="#000" stroke-width="0.6">4</text>
<text transform="translate(709.8,52.5) scale(1.08,1)" text-anchor="middle" font-family="Liberation Sans" font-size="21.6" stroke="#000" stroke-width="0.6">2</text>
<text transform="translate(723.9,52.5) scale(1.08,1)" text-anchor="middle" font-family="Liberation Sans" font-size="21.6" stroke="#000" stroke-width="0.6">8</text>
<text transform="translate(738,52.5) scale(1.08,1)" text-anchor="middle" font-family="Liberation Sans" font-size="21.6" stroke="#000" stroke-width="0.6">4</text>
<text transform="translate(440.4,84) scale(1.08,1)" text-anchor="middle" font-family="Liberation Sans" font-size="21.6" stroke="#000" stroke-width="0.6">5</text>
<text transform="translate(454.4,84) scale(1.08,1)" text-anchor="middle" font-family="Liberation Sans" font-size="21.6" stroke="#000" stroke-width="0.6">4</text>
<path d="M468.4,84 L468.4,69.14 M468.7,69.74 L464.2,72.94" stroke="#000" stroke-width="2.48" stroke-linecap="butt" fill="none"/>
<text transform="translate(482.4,84) scale(1.08,1)" text-anchor="middle" font-family="Liberation Sans" font-size="21.6" stroke="#000" stroke-width="0.6">0</text>
<text transform="translate(496.4,84) scale(1.08,1)" text-anchor="middle" font-family="Liberation Sans" font-size="21.6" stroke="#000" stroke-width="0.6">7</text>
<text transform="translate(510.4,84) scale(1.02,1)" text-anchor="middle" font-family="Liberation Sans" font-size="21.6" stroke="#000" stroke-width="0.6">A</text>
<text transform="translate(541.6,81) scale(1.08,1)" text-anchor="middle" font-family="Liberation Sans" font-size="21.6" stroke="#000" stroke-width="0.6">5</text>
<text transform="translate(555.55,81) scale(1.08,1)" text-anchor="middle" font-family="Liberation Sans" font-size="21.6" stroke="#000" stroke-width="0.6">4</text>
<text transform="translate(569.5,81) scale(1.08,1)" text-anchor="middle" font-family="Liberation Sans" font-size="21.6" stroke="#000" stroke-width="0.6">2</text>
<text transform="translate(583.45,81) scale(1.08,1)" text-anchor="middle" font-family="Liberation Sans" font-size="21.6" stroke="#000" stroke-width="0.6">7</text>
<text transform="translate(597.4,81) scale(1.08,1)" text-anchor="middle" font-family="Liberation Sans" font-size="21.6" stroke="#000" stroke-width="0.6">4</text>
<text transform="translate(635.6,81) scale(1.08,1)" text-anchor="middle" font-family="Liberation Sans" font-size="21.6" stroke="#000" stroke-width="0.6">5</text>
<text transform="translate(649.67,81) scale(1.08,1)" text-anchor="middle" font-family="Liberation Sans" font-size="21.6" stroke="#000" stroke-width="0.6">4</text>
<text transform="translate(663.74,81) scale(1.08,1)" text-anchor="middle" font-family="Liberation Sans" font-size="21.6" stroke="#000" stroke-width="0.6">2</text>
<text transform="translate(677.81,81) scale(1.08,1)" text-anchor="middle" font-family="Liberation Sans" font-size="21.6" stroke="#000" stroke-width="0.6">3</text>
<text transform="translate(691.88,81) scale(1.08,1)" text-anchor="middle" font-family="Liberation Sans" font-size="21.6" stroke="#000" stroke-width="0.6">9</text>
<text transform="translate(406.6,147.5) scale(1.08,1)" text-anchor="middle" font-family="Liberation Sans" font-size="21.6" stroke="#000" stroke-width="0.6">5</text>
<text transform="translate(420.55,147.5) scale(1.08,1)" text-anchor="middle" font-family="Liberation Sans" font-size="21.6" stroke="#000" stroke-width="0.6">4</text>
<text transform="translate(434.5,147.5) scale(1.08,1)" text-anchor="middle" font-family="Liberation Sans" font-size="21.6" stroke="#000" stroke-width="0.6">2</text>
<path d="M448.45,147.5 L448.45,132.64 M448.75,133.24 L444.25,136.44" stroke="#000" stroke-width="2.48" stroke-linecap="butt" fill="none"/>
<text transform="translate(462.4,147.5) scale(1.08,1)" text-anchor="middle" font-family="Liberation Sans" font-size="21.6" stroke="#000" stroke-width="0.6">5</text>
<text transform="translate(264.4,239.5) scale(1.08,1)" text-anchor="middle" font-family="Liberation Sans" font-size="21.6" stroke="#000" stroke-width="0.6">5</text>
<text transform="translate(278.4,239.5) scale(1.08,1)" text-anchor="middle" font-family="Liberation Sans" font-size="21.6" stroke="#000" stroke-width="0.6">4</text>
<text transform="translate(292.4,239.5) scale(1.08,1)" text-anchor="middle" font-family="Liberation Sans" font-size="21.6" stroke="#000" stroke-width="0.6">2</text>
<text transform="translate(306.4,239.5) scale(1.08,1)" text-anchor="middle" font-family="Liberation Sans" font-size="21.6" stroke="#000" stroke-width="0.6">9</text>
<path d="M320.4,239.5 L320.4,224.64 M320.7,225.24 L316.2,228.44" stroke="#000" stroke-width="2.48" stroke-linecap="butt" fill="none"/>
<text transform="translate(631.1,268) scale(1.08,1)" text-anchor="middle" font-family="Liberation Sans" font-size="21.6" stroke="#000" stroke-width="0.6">5</text>
<text transform="translate(645.4,268) scale(1.08,1)" text-anchor="middle" font-family="Liberation Sans" font-size="21.6" stroke="#000" stroke-width="0.6">4</text>
<text transform="translate(659.7,268) scale(1.08,1)" text-anchor="middle" font-family="Liberation Sans" font-size="21.6" stroke="#000" stroke-width="0.6">2</text>
<text transform="translate(674,268) scale(1.08,1)" text-anchor="middle" font-family="Liberation Sans" font-size="21.6" stroke="#000" stroke-width="0.6">8</text>
<path d="M688.3,268 L688.3,253.14 M688.6,253.74 L684.1,256.94" stroke="#000" stroke-width="2.48" stroke-linecap="butt" fill="none"/>
<text transform="translate(702.6,268) scale(0.96,1)" text-anchor="middle" font-family="Liberation Sans" font-size="21.6" stroke="#000" stroke-width="0.6">C</text>
<text transform="translate(270.6,325) scale(1.08,1)" text-anchor="middle" font-family="Liberation Sans" font-size="21.6" stroke="#000" stroke-width="0.6">5</text>
<text transform="translate(284.54,325) scale(1.08,1)" text-anchor="middle" font-family="Liberation Sans" font-size="21.6" stroke="#000" stroke-width="0.6">4</text>
<path d="M298.48,325 L298.48,310.14 M298.78,310.74 L294.28,313.94" stroke="#000" stroke-width="2.48" stroke-linecap="butt" fill="none"/>
<text transform="translate(312.42,325) scale(1.08,1)" text-anchor="middle" font-family="Liberation Sans" font-size="21.6" stroke="#000" stroke-width="0.6">5</text>
<text transform="translate(326.36,325) scale(1.08,1)" text-anchor="middle" font-family="Liberation Sans" font-size="21.6" stroke="#000" stroke-width="0.6">4</text>
<text transform="translate(340.3,325) scale(1.02,1)" text-anchor="middle" font-family="Liberation Sans" font-size="21.6" stroke="#000" stroke-width="0.6">B</text>
<text transform="translate(256.1,415.2) scale(1.08,1)" text-anchor="middle" font-family="Liberation Sans" font-size="21.6" stroke="#000" stroke-width="0.6">5</text>
<text transform="translate(270.3,415.2) scale(1.08,1)" text-anchor="middle" font-family="Liberation Sans" font-size="21.6" stroke="#000" stroke-width="0.6">4</text>
<text transform="translate(284.5,415.2) scale(1.08,1)" text-anchor="middle" font-family="Liberation Sans" font-size="21.6" stroke="#000" stroke-width="0.6">2</text>
<text transform="translate(298.7,415.2) scale(1.08,1)" text-anchor="middle" font-family="Liberation Sans" font-size="21.6" stroke="#000" stroke-width="0.6">9</text>
<path d="M312.9,415.2 L312.9,400.34 M313.2,400.94 L308.7,404.14" stroke="#000" stroke-width="2.48" stroke-linecap="butt" fill="none"/>
<text transform="translate(327.1,415.2) scale(0.96,1)" text-anchor="middle" font-family="Liberation Sans" font-size="21.6" stroke="#000" stroke-width="0.6">C</text>
<text transform="translate(588.6,432.7) scale(1.08,1)" text-anchor="middle" font-family="Liberation Sans" font-size="21.6" stroke="#000" stroke-width="0.6">5</text>
<text transform="translate(602.88,432.7) scale(1.08,1)" text-anchor="middle" font-family="Liberation Sans" font-size="21.6" stroke="#000" stroke-width="0.6">4</text>
<text transform="translate(617.16,432.7) scale(1.08,1)" text-anchor="middle" font-family="Liberation Sans" font-size="21.6" stroke="#000" stroke-width="0.6">2</text>
<text transform="translate(631.44,432.7) scale(1.08,1)" text-anchor="middle" font-family="Liberation Sans" font-size="21.6" stroke="#000" stroke-width="0.6">9</text>
<path d="M645.72,432.7 L645.72,417.84 M646.02,418.44 L641.52,421.64" stroke="#000" stroke-width="2.48" stroke-linecap="butt" fill="none"/>
<text transform="translate(660,432.7) scale(0.96,1)" text-anchor="middle" font-family="Liberation Sans" font-size="21.6" stroke="#000" stroke-width="0.6">C</text>
<text transform="translate(530.6,460.4) scale(1.08,1)" text-anchor="middle" font-family="Liberation Sans" font-size="21.6" stroke="#000" stroke-width="0.6">5</text>
<text transform="translate(544.55,460.4) scale(1.08,1)" text-anchor="middle" font-family="Liberation Sans" font-size="21.6" stroke="#000" stroke-width="0.6">4</text>
<text transform="translate(558.5,460.4) scale(1.08,1)" text-anchor="middle" font-family="Liberation Sans" font-size="21.6" stroke="#000" stroke-width="0.6">2</text>
<text transform="translate(572.45,460.4) scale(1.08,1)" text-anchor="middle" font-family="Liberation Sans" font-size="21.6" stroke="#000" stroke-width="0.6">9</text>
<text transform="translate(586.4,460.4) scale(1.08,1)" text-anchor="middle" font-family="Liberation Sans" font-size="21.6" stroke="#000" stroke-width="0.6">9</text>
<text transform="translate(73.8,433.8) scale(1.08,1)" text-anchor="middle" font-family="Liberation Sans" font-size="21.6" stroke="#000" stroke-width="0.6">5</text>
<text transform="translate(88,433.8) scale(1.08,1)" text-anchor="middle" font-family="Liberation Sans" font-size="21.6" stroke="#000" stroke-width="0.6">4</text>
<path d="M102.2,433.8 L102.2,418.94 M102.5,419.54 L98,422.74" stroke="#000" stroke-width="2.48" stroke-linecap="butt" fill="none"/>
<text transform="translate(116.4,433.8) scale(1.08,1)" text-anchor="middle" font-family="Liberation Sans" font-size="21.6" stroke="#000" stroke-width="0.6">5</text>
<text transform="translate(130.6,433.8) scale(1.08,1)" text-anchor="middle" font-family="Liberation Sans" font-size="21.6" stroke="#000" stroke-width="0.6">4</text>
<text transform="translate(144.8,433.8) scale(0.96,1)" text-anchor="middle" font-family="Liberation Sans" font-size="21.6" stroke="#000" stroke-width="0.6">C</text>
<text transform="translate(23.5,465.2) scale(1.08,1)" text-anchor="middle" font-family="Liberation Sans" font-size="21.6" stroke="#000" stroke-width="0.6">5</text>
<text transform="translate(37.54,465.2) scale(1.08,1)" text-anchor="middle" font-family="Liberation Sans" font-size="21.6" stroke="#000" stroke-width="0.6">4</text>
<text transform="translate(51.58,465.2) scale(1.08,1)" text-anchor="middle" font-family="Liberation Sans" font-size="21.6" stroke="#000" stroke-width="0.6">2</text>
<text transform="translate(65.62,465.2) scale(1.08,1)" text-anchor="middle" font-family="Liberation Sans" font-size="21.6" stroke="#000" stroke-width="0.6">9</text>
<path d="M79.66,465.2 L79.66,450.34 M79.96,450.94 L75.46,454.14" stroke="#000" stroke-width="2.48" stroke-linecap="butt" fill="none"/>
<text transform="translate(93.7,465.2) scale(1.02,1)" text-anchor="middle" font-family="Liberation Sans" font-size="21.6" stroke="#000" stroke-width="0.6">D</text>
<text transform="translate(141.6,637) scale(1.08,1)" text-anchor="middle" font-family="Liberation Sans" font-size="21.6" stroke="#000" stroke-width="0.6">5</text>
<text transform="translate(155.5,637) scale(1.08,1)" text-anchor="middle" font-family="Liberation Sans" font-size="21.6" stroke="#000" stroke-width="0.6">4</text>
<text transform="translate(169.4,637) scale(1.08,1)" text-anchor="middle" font-family="Liberation Sans" font-size="21.6" stroke="#000" stroke-width="0.6">2</text>
<text transform="translate(183.3,637) scale(1.08,1)" text-anchor="middle" font-family="Liberation Sans" font-size="21.6" stroke="#000" stroke-width="0.6">9</text>
<path d="M197.2,637 L197.2,622.14 M197.5,622.74 L193,625.94" stroke="#000" stroke-width="2.48" stroke-linecap="butt" fill="none"/>
<text transform="translate(211.1,637) scale(1.02,1)" text-anchor="middle" font-family="Liberation Sans" font-size="21.6" stroke="#000" stroke-width="0.6">D</text>
<text transform="translate(21.4,580.1) scale(0.86,1)" text-anchor="middle" font-family="Liberation Sans" font-size="18.9" stroke="#000" stroke-width="0.6">R</text>
<text transform="translate(36.5,580.1) scale(0.86,1)" text-anchor="middle" font-family="Liberation Sans" font-size="18.9" stroke="#000" stroke-width="0.6">E</text>
<text transform="translate(49.9,580.1) scale(0.86,1)" text-anchor="middle" font-family="Liberation Sans" font-size="18.9" stroke="#000" stroke-width="0.6">F</text>
<text transform="translate(57.6,580.1) scale(0.86,1)" text-anchor="middle" font-family="Liberation Sans" font-size="18.9" stroke="#000" stroke-width="0.6">.</text>
<path d="M20.4,601.1 L20.4,587.75 M20.7,588.25 L17,590.47" stroke="#000" stroke-width="1.94" fill="none"/>
<text transform="translate(35.9,601.1) scale(0.86,1)" text-anchor="middle" font-family="Liberation Sans" font-size="19.4" stroke="#000" stroke-width="0.6">6</text>
<path d="M63.3,601.1 L63.3,587.75 M63.6,588.25 L59.9,590.47" stroke="#000" stroke-width="1.94" fill="none"/>
<path d="M77.3,601.1 L77.3,587.75 M77.6,588.25 L73.9,590.47" stroke="#000" stroke-width="1.94" fill="none"/>
<text transform="translate(91.7,601.1) scale(0.86,1)" text-anchor="middle" font-family="Liberation Sans" font-size="19.4" stroke="#000" stroke-width="0.6">0</text>
<line x1="44.6" y1="594.6" x2="54.3" y2="594.6" stroke="#000" stroke-width="1.7"/>
<circle cx="116.4" cy="594.6" r="11.2" fill="none" stroke="#000" stroke-width="1.5"/>
<text transform="translate(116.6,600.9) scale(0.95,1)" text-anchor="middle" font-family="Liberation Sans" font-size="17.8" stroke="#000" stroke-width="0.7">2</text>
<text transform="translate(380.3,510.2) scale(0.8,1)" text-anchor="middle" font-family="Liberation Sans" font-size="19.9" stroke="#000" stroke-width="0.5">(</text>
<text transform="translate(391.6,511.9) scale(0.76,1)" text-anchor="middle" font-family="Liberation Sans" font-size="19.9" stroke="#000" stroke-width="0.6">R</text>
<text transform="translate(405.1,511.9) scale(0.76,1)" text-anchor="middle" font-family="Liberation Sans" font-size="19.9" stroke="#000" stroke-width="0.6">E</text>
<text transform="translate(418.2,511.9) scale(0.76,1)" text-anchor="middle" font-family="Liberation Sans" font-size="19.9" stroke="#000" stroke-width="0.6">F</text>
<text transform="translate(428.4,511.9) scale(0.76,1)" text-anchor="middle" font-family="Liberation Sans" font-size="19.9" stroke="#000" stroke-width="0.6">.</text>
<path d="M443,511.9 L443,498.21 M443.3,498.71 L439.6,500.93" stroke="#000" stroke-width="1.99" fill="none"/>
<text transform="translate(458,511.9) scale(0.76,1)" text-anchor="middle" font-family="Liberation Sans" font-size="19.9" stroke="#000" stroke-width="0.6">6</text>
<path d="M485.5,511.9 L485.5,498.21 M485.8,498.71 L482.1,500.93" stroke="#000" stroke-width="1.99" fill="none"/>
<path d="M499.5,511.9 L499.5,498.21 M499.8,498.71 L496.1,500.93" stroke="#000" stroke-width="1.99" fill="none"/>
<text transform="translate(514.4,511.9) scale(0.76,1)" text-anchor="middle" font-family="Liberation Sans" font-size="19.9" stroke="#000" stroke-width="0.6">0</text>
<text transform="translate(569.4,510.2) scale(0.8,1)" text-anchor="middle" font-family="Liberation Sans" font-size="19.9" stroke="#000" stroke-width="0.5">)</text>
<line x1="466.3" y1="505" x2="475.9" y2="505" stroke="#000" stroke-width="1.8"/>
<circle cx="544.3" cy="503.1" r="11.7" fill="none" stroke="#000" stroke-width="1.5"/>
<path d="M544.1,510.7 L544.1,498.32 M544.4,498.82 L540.9,500.88" stroke="#000" stroke-width="1.8" fill="none"/>
<text transform="translate(666.3,982.8) scale(0.95,1)" text-anchor="middle" font-family="Liberation Sans" font-weight="bold" font-size="15" fill="#000">3</text>
<text transform="translate(676.6,982.8) scale(0.72,1)" text-anchor="middle" font-family="Liberation Sans" font-weight="bold" font-size="15" fill="#000">Q</text>
<text transform="translate(687.3,982.8) scale(0.78,1)" text-anchor="middle" font-family="Liberation Sans" font-weight="bold" font-size="15" fill="#000">R</text>
<text transform="translate(697.8,982.8) scale(0.95,1)" text-anchor="middle" font-family="Liberation Sans" font-weight="bold" font-size="15" fill="#000">5</text>
<text transform="translate(708.2,982.8) scale(0.78,1)" text-anchor="middle" font-family="Liberation Sans" font-weight="bold" font-size="15" fill="#000">H</text>
<text transform="translate(718.6,982.8) scale(0.95,1)" text-anchor="middle" font-family="Liberation Sans" font-weight="bold" font-size="15" fill="#000">7</text>
<text transform="translate(727.6,982.8) scale(0.95,1)" text-anchor="middle" font-family="Liberation Sans" font-weight="bold" font-size="15" fill="#000">4</text>
<ellipse cx="436" cy="171" rx="60" ry="65" fill="none" stroke="#ec1c24" stroke-width="4.4"/>
<g style="mix-blend-mode:multiply">
<text transform="translate(70.7,521.9) rotate(13.03)" font-family="Liberation Sans" font-size="58.5" fill="#adadad" stroke="#fff" stroke-width="0.5">WWW.JAPANCATS.RU</text>
<text transform="translate(350.5,544) rotate(12.6)" font-family="Liberation Sans" font-style="italic" font-size="18.3" fill="#a4a4a4" stroke="#fff" stroke-width="0.8">18.08.2017</text>
</g>
</svg>
</body></html>
